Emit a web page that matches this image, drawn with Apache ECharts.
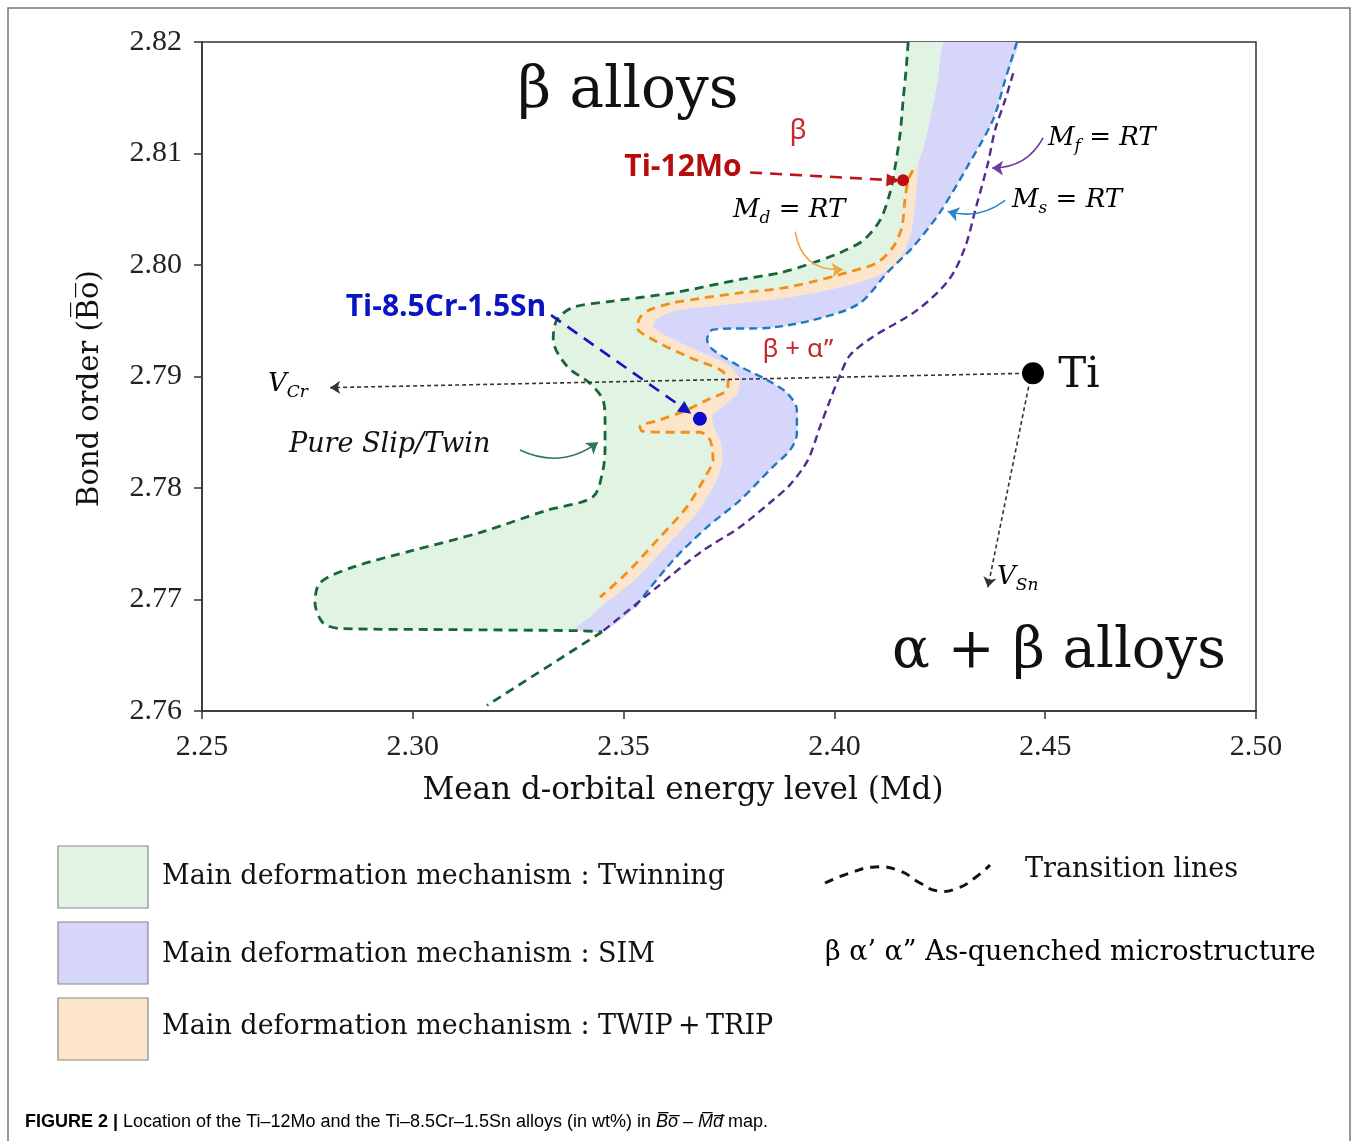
<!DOCTYPE html>
<html><head><meta charset="utf-8">
<script src="https://cdn.jsdelivr.net/npm/echarts@6/dist/echarts.min.js"></script>
<style>html,body{margin:0;padding:0;background:#fff}#c{width:1357px;height:1141px}</style>
</head><body><div id="c"></div>
<script>
// ---------- data (Md, Bo) ----------
const xTickValues = [2.25, 2.30, 2.35, 2.40, 2.45, 2.50];
const yTickValues = [2.76, 2.77, 2.78, 2.79, 2.80, 2.81, 2.82];

// "Pure slip / twin" boundary (dark green)
const greenBoundary = [
  [2.4175,2.8200],[2.4170,2.8175],[2.4163,2.8148],[2.4156,2.8118],[2.4144,2.8088],[2.4132,2.8065],
  [2.4108,2.8040],[2.4068,2.8022],[2.4013,2.8011],[2.3949,2.8002],[2.3871,2.7993],[2.3776,2.7987],
  [2.3617,2.7975],[2.3461,2.7967],[2.3380,2.7962],[2.3342,2.7951],[2.3333,2.7933],[2.3366,2.7909],
  [2.3420,2.7894],[2.3451,2.7879],[2.3456,2.7861],[2.3456,2.7837],[2.3451,2.7816],[2.3427,2.7792],
  [2.3318,2.7780],[2.3159,2.7760],[2.3000,2.7744],[2.2858,2.7729],[2.2780,2.7715],[2.2768,2.7697],
  [2.2787,2.7679],[2.2827,2.7674],[2.3081,2.7673],[2.3397,2.7672],[2.3449,2.7671]
];
const greenTail = [[2.3449,2.7671],[2.3176,2.7605]];

// Md = RT (orange)
const orangeLine = [
  [2.4186,2.8085],[2.4175,2.8076],[2.4167,2.8058],[2.4160,2.8034],[2.4139,2.8016],[2.4101,2.8002],
  [2.4037,2.7994],[2.3949,2.7985],[2.3871,2.7979],[2.3776,2.7975],[2.3681,2.7970],[2.3617,2.7966],
  [2.3563,2.7960],[2.3539,2.7953],[2.3532,2.7944],[2.3570,2.7933],[2.3657,2.7917],[2.3729,2.7906],
  [2.3748,2.7897],[2.3745,2.7888],[2.3698,2.7879],[2.3650,2.7870],[2.3586,2.7861],[2.3539,2.7855],
  [2.3544,2.7851],[2.3617,2.7850],[2.3681,2.7850],[2.3705,2.7843],[2.3712,2.7825],[2.3698,2.7813],
  [2.3650,2.7783],[2.3579,2.7753],[2.3508,2.7724],[2.3444,2.7702]
];
// outer edge of the TWIP+TRIP band
const peachEdge = [
  [2.4198,2.8091],[2.4192,2.8058],[2.4182,2.8030],[2.4160,2.8008],[2.4117,2.7993],[2.4045,2.7983],
  [2.3952,2.7975],[2.3871,2.7970],[2.3776,2.7966],[2.3681,2.7962],[2.3612,2.7958],[2.3577,2.7951],
  [2.3570,2.7944],[2.3603,2.7936],[2.3680,2.7922],[2.3750,2.7910],[2.3775,2.7897],[2.3770,2.7885],
  [2.3738,2.7874],[2.3710,2.7865],[2.3714,2.7854],[2.3730,2.7841],[2.3734,2.7823],[2.3720,2.7807],
  [2.3675,2.7778],[2.3604,2.7749],[2.3530,2.7719],[2.3460,2.7698]
];
const lavenderTop = [[2.4262,2.8200],[2.4246,2.8166],[2.4227,2.8130],[2.4210,2.8103]];
const lavenderBottom = [[2.3420,2.7684],[2.3387,2.7674],[2.3449,2.7671]];

// Ms = RT (blue)
const blueLine = [
  [2.4433,2.8200],[2.4405,2.8166],[2.4376,2.8130],[2.4315,2.8088],[2.4250,2.8047],[2.4186,2.8016],
  [2.4125,2.7993],[2.4061,2.7966],[2.3973,2.7953],[2.3854,2.7944],[2.3712,2.7942],[2.3698,2.7933],
  [2.3712,2.7924],[2.3776,2.7909],[2.3840,2.7897],[2.3888,2.7885],[2.3911,2.7870],[2.3911,2.7849],
  [2.3895,2.7834],[2.3854,2.7819],[2.3776,2.7789],[2.3698,2.7765],[2.3617,2.7735],[2.3522,2.7691]
];
// Mf = RT (purple)
const purpleLine = [
  [2.4424,2.8172],[2.4405,2.8148],[2.4381,2.8121],[2.4364,2.8091],[2.4336,2.8052],[2.4310,2.8016],
  [2.4272,2.7987],[2.4198,2.7960],[2.4089,2.7935],[2.4037,2.7919],[2.4013,2.7901],[2.3990,2.7879],
  [2.3966,2.7855],[2.3937,2.7825],[2.3895,2.7803],[2.3854,2.7789],[2.3776,2.7765],[2.3681,2.7742],
  [2.3579,2.7711],[2.3449,2.7671]
];

const alloyTi12Mo = [2.4163, 2.8076];
const alloyTiCrSn = [2.3681, 2.7862];
const pureTi = [2.4471, 2.7903];

// annotation arrows (start, end)
const arrowTi12Mo = [[2.3800,2.8083],[2.4139,2.8076]];
const arrowTiCrSn = [[2.3328,2.7955],[2.3648,2.7870]];
const arrowVCr = [[2.4471,2.7903],[2.2804,2.7890]];
const arrowVSn = [[2.4464,2.7897],[2.4364,2.7711]];
const leaderMd = [[2.3907,2.8030],[2.4020,2.7996]];
const leaderMs = [[2.4405,2.8058],[2.4269,2.8048]];
const leaderMf = [[2.4495,2.8114],[2.4374,2.8087]];
const leaderSlip = [[2.3254,2.7834],[2.3439,2.7841]];

// ---------- build ----------
const greenFill = greenBoundary.concat(blueLine.slice().reverse());
const lavenderFill = lavenderTop.concat(peachEdge, lavenderBottom, blueLine.slice().reverse());
const peachFill = orangeLine.concat(peachEdge.slice().reverse());

function polySeries(points, color, z) {
  return {
    type: 'custom', coordinateSystem: 'cartesian2d', z: z, silent: true, animation: false, clip: true,
    data: [points[0]],
    renderItem: function (params, api) {
      return { type: 'polygon', shape: { points: points.map(p => api.coord(p)), smooth: 0.2 },
               style: { fill: color, stroke: null } };
    }
  };
}
function dashLine(points, color, width, dash) {
  return { type: 'line', data: points, symbol: 'none', showSymbol: false, smooth: 0.3, z: 5,
           silent: true, animation: false, lineStyle: { color: color, width: width, type: dash } };
}
function arrow(pair, color, width, dash, sym, size, curve) {
  return { coords: pair, symbol: ['none', sym], symbolSize: size,
           lineStyle: { color: color, width: width, type: dash, curveness: curve || 0, opacity: 1 } };
}

const SERIF = '"DejaVu Serif", serif';
const TSERIF = '"Liberation Serif", serif';
const chart = echarts.init(document.getElementById('c'));

const mathRich = {
  i: { fontFamily: SERIF, fontStyle: 'italic', fontSize: 26, color: '#111', lineHeight: 34 },
  n: { fontFamily: SERIF, fontSize: 26, color: '#111', lineHeight: 34 },
  s: { fontFamily: SERIF, fontStyle: 'italic', fontSize: 17, color: '#111', lineHeight: 22, verticalAlign: 'bottom', padding: [10, 0, 0, 0] }
};
function mathText(x, y, str) {
  return { type: 'text', x: x, y: y, silent: true,
    style: { text: str, rich: mathRich, textVerticalAlign: 'middle', textAlign: 'left' } };
}
function txt(x, y, text, font, color, align) {
  return { type: 'text', x: x, y: y, silent: true,
    style: { text: text, font: font, fill: color || '#111', textAlign: align || 'center', textVerticalAlign: 'middle' } };
}

chart.setOption({
  animation: false,
  backgroundColor: '#fff',
  grid: { left: 202, top: 42, right: 101, bottom: 430, show: true, borderColor: '#333', borderWidth: 1.5 },
  xAxis: {
    type: 'value', min: 2.25, max: 2.50, interval: 0.05,
    name: 'Mean d-orbital energy level (Md)', nameLocation: 'middle', nameGap: 64,
    nameTextStyle: { fontFamily: SERIF, fontSize: 31, color: '#111', padding: [0, 92, 0, 0] },
    axisLine: { lineStyle: { color: '#333', width: 1.5 } },
    axisTick: { show: true, inside: false, length: 8, lineStyle: { color: '#333', width: 1.5 } },
    axisLabel: { fontFamily: TSERIF, fontSize: 30, color: '#222', margin: 21, formatter: v => v.toFixed(2) },
    splitLine: { show: false }
  },
  yAxis: {
    type: 'value', min: 2.76, max: 2.82, interval: 0.01,
    name: 'Bond order (B\u0305o\u0305)', nameLocation: 'middle', nameGap: 97,
    nameTextStyle: { fontFamily: SERIF, fontSize: 29, color: '#111', padding: [0, 24, 0, 0] },
    axisLine: { lineStyle: { color: '#333', width: 1.5 } },
    axisTick: { show: true, inside: false, length: 8, lineStyle: { color: '#333', width: 1.5 } },
    axisLabel: { fontFamily: TSERIF, fontSize: 30, color: '#222', margin: 20, formatter: v => v.toFixed(2) },
    splitLine: { show: false }
  },
  series: [
    polySeries(greenFill, '#e1f3e2', 1),
    polySeries(lavenderFill, '#d6d6fa', 2),
    polySeries(peachFill, '#fde5cb', 3),
    dashLine(greenBoundary, '#17653a', 2.8, [9, 6]),
    dashLine(greenTail, '#17653a', 2.8, [9, 6]),
    dashLine(orangeLine, '#f0901c', 2.8, [9, 6]),
    dashLine(blueLine, '#1f78c4', 2.4, [8, 5]),
    dashLine(purpleLine, '#55298f', 2.4, [8, 5]),
    {
      type: 'lines', coordinateSystem: 'cartesian2d', z: 8, silent: true, animation: false,
      polyline: false, effect: { show: false },
      data: [
        arrow(arrowTi12Mo, '#c0141a', 2.6, [12, 8], 'triangle', 13),
        arrow(arrowTiCrSn, '#1414c0', 2.6, [12, 8], 'triangle', 13),
        arrow(arrowVCr, '#333', 1.6, [4, 3], 'arrow', 10),
        arrow(arrowVSn, '#333', 1.6, [4, 3], 'arrow', 10),
        arrow(leaderMd, '#f2a640', 1.6, 'solid', 'arrow', 11, -0.45),
        arrow(leaderMs, '#2e86c8', 1.6, 'solid', 'arrow', 11, 0.25),
        arrow(leaderMf, '#6a3a9e', 1.6, 'solid', 'arrow', 11, 0.3),
        arrow(leaderSlip, '#2e7a55', 1.6, 'solid', 'arrow', 11, -0.3)
      ]
    },
    {
      type: 'scatter', z: 10, silent: true, animation: false,
      data: [
        { value: alloyTi12Mo, symbolSize: 12, itemStyle: { color: '#c00d0d', opacity: 1 } },
        { value: alloyTiCrSn, symbolSize: 14, itemStyle: { color: '#0b0bcc', opacity: 1 } },
        { value: pureTi, symbolSize: 22, itemStyle: { color: '#000', opacity: 1 } }
      ]
    }
  ],
  graphic: [
    { type: 'polyline', silent: true, shape: { points: [[8, 1141], [8, 8], [1350, 8], [1350, 1141]] },
      style: { stroke: '#777', lineWidth: 1.5, fill: null } },
    txt(628, 92, 'β alloys', '58px ' + SERIF, '#111'),
    txt(1059, 652, 'α + β alloys', '56px ' + SERIF, '#111'),
    txt(1079, 376, 'Ti', '42px ' + SERIF, '#111'),
    txt(798, 131, 'β', '28px "Noto Sans", sans-serif', '#c4282e'),
    txt(963, 68, 'β + ω', '26px "Noto Sans", sans-serif', '#c4282e'),
    txt(798, 350, 'β + α”', '26px "Noto Sans", sans-serif', '#c4282e'),
    txt(683, 167, 'Ti-12Mo', 'bold 30px "Open Sans", sans-serif', '#b50d0d'),
    txt(446, 307, 'Ti-8.5Cr-1.5Sn', 'bold 30px "Open Sans", sans-serif', '#0a14c0'),
    mathText(733, 210, '{i|M}{s|d}{n| = }{i|RT}'),
    mathText(1048, 138, '{i|M}{s|f}{n| = }{i|RT}'),
    mathText(1012, 200, '{i|M}{s|s}{n| = }{i|RT}'),
    mathText(268, 384, '{i|V}{s|Cr}'),
    mathText(997, 577, '{i|V}{s|Sn}'),
    txt(289, 445, 'Pure Slip/Twin', 'italic 27px ' + SERIF, '#111', 'left'),
    // legend
    { type: 'rect', silent: true, shape: { x: 58, y: 846, width: 90, height: 62 }, style: { fill: '#e1f3e2', stroke: '#888', lineWidth: 1.2 } },
    { type: 'rect', silent: true, shape: { x: 58, y: 922, width: 90, height: 62 }, style: { fill: '#d6d6fa', stroke: '#888', lineWidth: 1.2 } },
    { type: 'rect', silent: true, shape: { x: 58, y: 998, width: 90, height: 62 }, style: { fill: '#fde5cb', stroke: '#888', lineWidth: 1.2 } },
    txt(162, 877, 'Main deformation mechanism : Twinning', '27px ' + SERIF, '#111', 'left'),
    txt(162, 955, 'Main deformation mechanism : SIM', '27px ' + SERIF, '#111', 'left'),
    txt(162, 1027, 'Main deformation mechanism : TWIP\u2009+\u2009TRIP', '27px ' + SERIF, '#111', 'left'),
    { type: 'polyline', silent: true,
      shape: { points: [[825, 883], [850, 873], [875, 867], [900, 871], [920, 883], [938, 891], [958, 888], [976, 877], [990, 865]], smooth: 0.5 },
      style: { stroke: '#111', lineWidth: 3, lineDash: [9, 7], fill: null } },
    txt(1025, 870, 'Transition lines', '27px ' + SERIF, '#111', 'left'),
    { type: 'text', x: 825, y: 953, silent: true,
      style: { text: '{r|β α’ α” }{k|As-quenched microstructure}', textVerticalAlign: 'middle',
        rich: { r: { fontFamily: SERIF, fontSize: 27, color: '#c4282e' }, k: { fontFamily: SERIF, fontSize: 27, color: '#111' } } } },
    { type: 'text', x: 25, y: 1122, silent: true,
      style: { text: '{b|FIGURE 2 | }{r|Location of the Ti–12Mo and the Ti–8.5Cr–1.5Sn alloys (in wt%) in }{i|B\u0305o\u0305}{r| – }{i|M\u0305d\u0305}{r| map.}',
        textVerticalAlign: 'middle',
        rich: {
          b: { fontFamily: '"Liberation Sans", sans-serif', fontWeight: 'bold', fontSize: 18, color: '#222' },
          r: { fontFamily: '"Liberation Sans", sans-serif', fontSize: 18, color: '#222' },
          i: { fontFamily: '"Liberation Sans", sans-serif', fontStyle: 'italic', fontSize: 18, color: '#222' }
        } } }
  ]
});
</script>
</body></html>
